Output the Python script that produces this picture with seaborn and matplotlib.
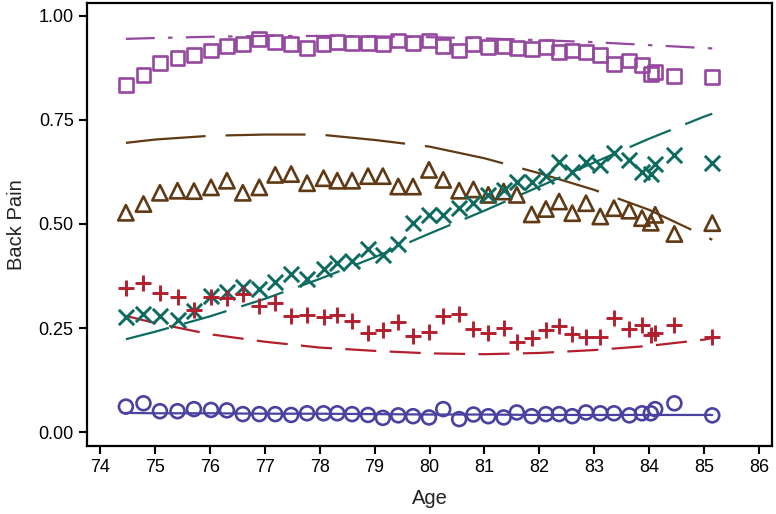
import numpy as np
import pandas as pd
import seaborn as sns
import matplotlib.pyplot as plt

# ages of the age groups (shared by every series)
age = [74.47, 74.79, 75.09, 75.41, 75.71, 76.02, 76.31, 76.60, 76.90, 77.19,
       77.48, 77.77, 78.07, 78.32, 78.59, 78.88, 79.15, 79.43, 79.70, 79.99,
       80.25, 80.54, 80.80, 81.07, 81.35, 81.59, 81.86, 82.12, 82.36, 82.60,
       82.85, 83.11, 83.36, 83.64, 83.87, 84.03, 84.11, 84.46, 85.15]

squares = [0.834, 0.858, 0.888, 0.898, 0.906, 0.917, 0.928, 0.932, 0.944, 0.938,
           0.933, 0.922, 0.933, 0.938, 0.934, 0.934, 0.933, 0.941, 0.936, 0.941,
           0.928, 0.917, 0.933, 0.925, 0.928, 0.922, 0.920, 0.925, 0.914, 0.917,
           0.914, 0.906, 0.885, 0.893, 0.882, 0.861, 0.866, 0.856, 0.853]

triangles = [0.527, 0.548, 0.575, 0.580, 0.579, 0.588, 0.604, 0.575, 0.588, 0.618,
             0.620, 0.598, 0.610, 0.604, 0.604, 0.615, 0.615, 0.590, 0.590, 0.630,
             0.606, 0.580, 0.583, 0.570, 0.578, 0.570, 0.523, 0.536, 0.554, 0.526,
             0.550, 0.518, 0.538, 0.532, 0.514, 0.503, 0.522, 0.476, 0.502]

crosses = [0.276, 0.283, 0.279, 0.269, 0.292, 0.327, 0.337, 0.349, 0.343, 0.361,
           0.380, 0.367, 0.391, 0.407, 0.411, 0.439, 0.425, 0.452, 0.502, 0.522,
           0.522, 0.538, 0.551, 0.570, 0.582, 0.602, 0.602, 0.615, 0.650, 0.626,
           0.650, 0.642, 0.670, 0.654, 0.626, 0.620, 0.644, 0.666, 0.646]

pluses = [0.345, 0.357, 0.333, 0.324, 0.293, 0.324, 0.321, 0.332, 0.303, 0.309,
          0.279, 0.281, 0.276, 0.281, 0.268, 0.239, 0.244, 0.265, 0.231, 0.241,
          0.279, 0.283, 0.247, 0.239, 0.249, 0.216, 0.225, 0.245, 0.256, 0.236,
          0.228, 0.228, 0.273, 0.248, 0.257, 0.233, 0.237, 0.257, 0.228]

circles = [0.061, 0.069, 0.050, 0.050, 0.055, 0.053, 0.052, 0.043, 0.043, 0.043,
           0.041, 0.045, 0.045, 0.045, 0.043, 0.041, 0.034, 0.040, 0.038, 0.035,
           0.055, 0.031, 0.042, 0.038, 0.035, 0.047, 0.038, 0.043, 0.043, 0.038,
           0.047, 0.045, 0.045, 0.040, 0.045, 0.045, 0.055, 0.069, 0.040]

# fitted curves, read at these ages
fit_age = [74.47, 75, 76, 77, 78, 79, 80, 81, 82, 83, 84, 85, 85.15]
fit_squares = [0.945, 0.947, 0.950, 0.952, 0.952, 0.951, 0.949, 0.946, 0.942, 0.937, 0.930, 0.923, 0.922]
fit_triangles = [0.695, 0.703, 0.712, 0.715, 0.715, 0.702, 0.686, 0.658, 0.622, 0.582, 0.534, 0.472, 0.462]
fit_crosses = [0.223, 0.241, 0.278, 0.320, 0.368, 0.420, 0.477, 0.532, 0.590, 0.648, 0.705, 0.758, 0.765]
fit_pluses = [0.279, 0.262, 0.235, 0.217, 0.203, 0.195, 0.189, 0.187, 0.190, 0.197, 0.207, 0.222, 0.226]
fit_circles = [0.046, 0.045, 0.045, 0.044, 0.044, 0.043, 0.042, 0.042, 0.041, 0.041, 0.041, 0.041, 0.041]

sns.set_style('ticks')
plt.rcParams['font.family'] = ['Liberation Sans', 'DejaVu Sans']

fig = plt.figure(figsize=(7.76, 5.14), dpi=100)
ax = fig.add_axes([0.112, 0.132, 0.883, 0.862])

series = [
    (squares, fit_squares, '#94489f', 's', (0, (13, 6, 2, 6)), 10),
    (triangles, fit_triangles, '#5f3a14', '^', (0, (36, 9)), 11),
    (crosses, fit_crosses, '#0e6b60', 'x', (0, (20, 7)), 11),
    (pluses, fit_pluses, '#b41f2e', '+', (0, (14, 6)), 12),
    (circles, fit_circles, '#4a41a0', 'o', '-', 10),
]

for pts, fit, col, mk, ls, ms in series:
    sns.lineplot(x=fit_age, y=fit, color=col, linestyle=ls, linewidth=1.6, ax=ax)
    if mk in ('x', '+'):
        sns.scatterplot(x=age, y=pts, marker=mk, color=col, s=ms ** 2,
                        linewidth=2.1, ax=ax, zorder=3)
    else:
        sns.scatterplot(x=age, y=pts, marker=mk, facecolor='none', edgecolor=col,
                        s=ms ** 2, linewidth=1.9, ax=ax, zorder=3)

ax.set_xlim(73.76, 86.24)
ax.set_ylim(-0.034, 1.031)
ax.set_xticks(range(74, 87))
ax.set_yticks([0, 0.25, 0.5, 0.75, 1.0])
ax.set_yticklabels(['0.00', '0.25', '0.50', '0.75', '1.00'])
ax.tick_params(labelsize=13, length=6, width=1.5, colors='black', direction='out')
ax.tick_params(top=False, right=False)
for sp in ax.spines.values():
    sp.set_visible(True)
    sp.set_linewidth(1.6)
    sp.set_color('black')
ax.set_xlabel('Age', fontsize=14.5, labelpad=9, color='#222222')
ax.set_ylabel('Back Pain', fontsize=14.5, labelpad=9, color='#222222')

fig.savefig('out.png', dpi=100)
